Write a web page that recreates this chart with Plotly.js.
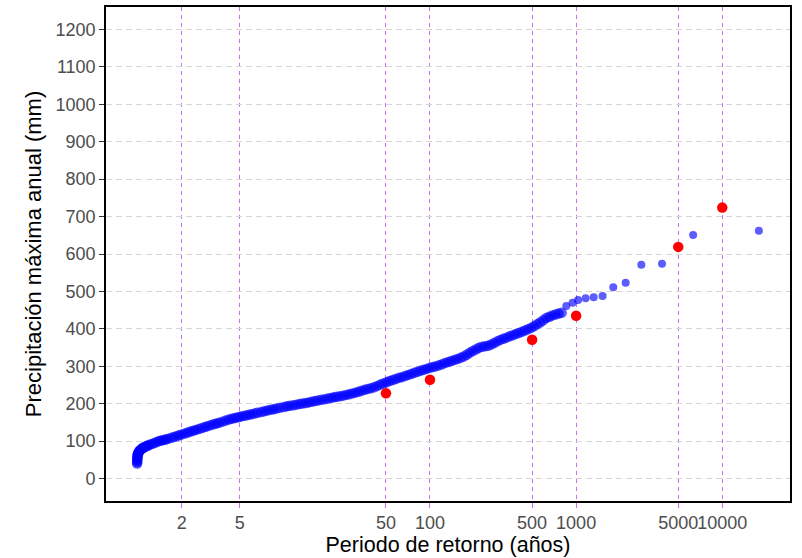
<!DOCTYPE html>
<html>
<head>
<meta charset="utf-8">
<script src="https://cdn.plot.ly/plotly-3.0.1.min.js"></script>
<style>html,body{margin:0;padding:0;background:#fff;}#chart{width:802px;height:558px;}</style>
</head>
<body>
<div id="chart"></div>
<script>
// Return periods (years) of the empirical (blue) points
var periodoEmpirico = [0.991,0.992,0.993,0.994,0.995,0.996,0.998,1.0,1.005,1.01,1.015,1.02,1.03,1.04,1.055,1.07,1.085,1.1,1.125,1.15,1.175,1.2,1.25,1.3,1.35,1.4,1.45,1.5,1.55,1.6,1.68,1.76,1.84,1.92,2.0,2.1,2.2,2.3,2.4,2.5,2.62,2.75,2.88,3.0,3.15,3.3,3.45,3.6,3.8,4.0,4.2,4.4,4.6,4.8,5.0,5.25,5.5,5.75,6.0,6.3,6.6,7.0,7.35,7.7,8.1,8.5,8.9,9.4,10,10.5,11,11.6,12.2,12.8,13.4,14.1,14.8,15.5,16.3,17.1,18,19,20,21,22,23,24.2,25.4,26.7,28,29.4,30.9,32.4,34,35.7,37.5,39.4,41.4,43.5,45.7,48,50.4,52.9,55.5,58.3,61.2,64.3,67.5,70.9,74.4,78.1,82,86.1,90.4,94.9,99.6,104.6,109.8,115.3,121,127,133.4,140,147,154,162,170,178.5,187,196,206,216,227,238,250,262,275,289,303,318,334,351,368,386,405,425,446,468,491,515,540,567,595,625,656,688,722,758,796,857,946,1031,1162,1319,1517,1796,2183,2795,3870,6320,17800];
// Annual maximum precipitation (mm) of the empirical points
var precipEmpirica = [40,44,48,52,55,58,61,64,66,68,70,72,74,76,78,80,82,83,85,87,88.5,90,92.5,95,97.5,100,101.5,103,104.5,106,108.5,111,113,115.5,118,120.5,123,125.5,128,130,132.5,135,137.5,140,142.5,145,147,149,152,155,157.5,159.5,161.5,163,165,167,168.5,170.5,172,174,176,178,180,181.5,183.5,185,187,189,191,193,194.5,196,197.5,199,200.5,202,203.5,205,207,208.5,210.5,212,214,215.5,217,218.5,220,221.5,223.5,225,227.5,229.5,232,234.5,237,239.5,241.5,244,247,251,254,257.5,260.5,263,266,269,271,274,277,279.5,282.5,285.5,288,290.5,293,296,298,300,302.5,305.5,309,311.5,314,317,319.5,322.5,326,331,336,341,345,349.5,352,353.5,355,358,362,367,370.5,373.5,376.5,380,383,386,389,392,395.5,399,402.5,407,412,417,423,429,432.5,436,438.5,441,443,461,470,477,482,484.5,488,511,523.5,571,574,651,662];
// Design return periods (red points) and their estimated values
var periodoDiseno = [50,100,500,1000,5000,10000];
var precipDiseno = [228,264,371,435,619,724];
// Axis ticks
var xTicks = [2,5,50,100,500,1000,5000,10000];
var xTickText = ['2','5','50','100','500','1000','5000','10000'];
var yTicks = [0,100,200,300,400,500,600,700,800,900,1000,1100,1200];

var font = 'Liberation Sans, Arial, sans-serif';

// dense (heavily overlapping) part of the sample is drawn a little larger
var blueSizes = periodoEmpirico.map(function (t) { return t < 800 ? 10.5 : 8; });

var traces = [
  {
    x: periodoEmpirico, y: precipEmpirica, type: 'scatter', mode: 'markers',
    marker: {color: 'rgba(0,0,255,0.64)', opacity: 1, size: blueSizes, line: {width: 0}},
    showlegend: false, hoverinfo: 'x+y'
  },
  {
    x: periodoDiseno, y: precipDiseno, type: 'scatter', mode: 'markers',
    marker: {color: 'rgb(255,0,0)', opacity: 1, size: 10.5, line: {width: 0}},
    showlegend: false, hoverinfo: 'x+y'
  }
];

var layout = {
  width: 802, height: 558,
  margin: {l: 106, r: 12, t: 7, b: 57, pad: 0},
  paper_bgcolor: '#ffffff', plot_bgcolor: '#ffffff',
  font: {family: font, color: '#4d4d4d'},
  showlegend: false,
  xaxis: {
    type: 'log',
    range: [-0.2168, 4.4636],
    tickmode: 'array', tickvals: xTicks, ticktext: xTickText,
    tickangle: 0,
    showgrid: true, gridcolor: 'rgba(165,50,245,0.7)', gridwidth: 1, griddash: '4px,4px',
    zeroline: false,
    showline: true, linecolor: '#000000', linewidth: 1.8, mirror: true,
    ticks: 'outside', ticklen: 5, tickwidth: 1, tickcolor: 'rgba(165,50,245,0.7)',
    tickfont: {family: font, size: 18, color: '#4d4d4d'},
    title: {text: 'Periodo de retorno (años)', font: {family: font, size: 21.5, color: '#000000'}, standoff: 2}
  },
  yaxis: {
    range: [-60, 1260],
    tickmode: 'array', tickvals: yTicks,
    showgrid: true, gridcolor: '#d6d6d6', gridwidth: 1, griddash: '6px,4px',
    zeroline: false,
    showline: true, linecolor: '#000000', linewidth: 1.8, mirror: true,
    ticks: 'outside', ticklen: 5, tickwidth: 1, tickcolor: '#333333',
    tickfont: {family: font, size: 18, color: '#4d4d4d'},
    title: {text: 'Precipitación máxima anual (mm)', font: {family: font, size: 22, color: '#000000'}, standoff: 8}
  }
};

Plotly.newPlot('chart', traces, layout, {displayModeBar: false, staticPlot: true});
</script>
</body>
</html>
